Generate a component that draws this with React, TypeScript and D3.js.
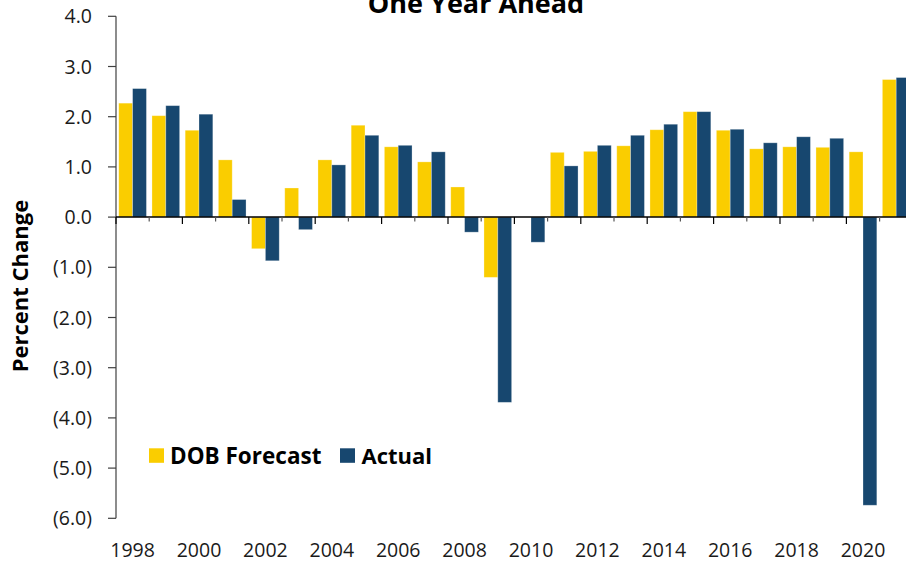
import React from "react";
import * as d3 from "d3";

const years: number[] = [1998, 1999, 2000, 2001, 2002, 2003, 2004, 2005, 2006, 2007, 2008, 2009, 2010, 2011, 2012, 2013, 2014, 2015, 2016, 2017, 2018, 2019, 2020, 2021];
const forecast: number[] = [2.27, 2.02, 1.73, 1.14, -0.63, 0.58, 1.14, 1.83, 1.4, 1.1, 0.6, -1.2, 0, 1.29, 1.31, 1.42, 1.74, 2.1, 1.73, 1.36, 1.4, 1.39, 1.3, 2.74];
const actual: number[] = [2.56, 2.22, 2.05, 0.35, -0.87, -0.25, 1.04, 1.63, 1.43, 1.3, -0.3, -3.69, -0.5, 1.02, 1.43, 1.63, 1.85, 2.1, 1.75, 1.48, 1.6, 1.57, -5.74, 2.78];
const yTicks: number[] = [4, 3, 2, 1, 0, -1, -2, -3, -4, -5, -6];
const seriesNames: string[] = ["DOB Forecast", "Actual"];
const seriesColors: string[] = ["#FACD00", "#17476F"];
const title = "One Year Ahead";
const yTitle = "Percent Change";

const W = 906;
const H = 561;
const FONT = "'Open Sans', 'Noto Sans', sans-serif";

export default function App() {
  const x0 = d3
    .scaleBand<number>()
    .domain(years)
    .range([116, 116 + 33.2 * years.length])
    .paddingInner(0)
    .paddingOuter(0);
  const x1 = d3
    .scaleBand<number>()
    .domain([0, 1])
    .range([0, x0.bandwidth()])
    .paddingOuter(0.2)
    .paddingInner(0);
  const y = d3.scaleLinear().domain([-6, 4]).range([518.3, 16.3]);

  const fmt = (v: number) => (v < 0 ? `(${Math.abs(v).toFixed(1)})` : v.toFixed(1));
  const series = [forecast, actual];

  return (
    <svg
      width={W}
      height={H}
      style={{ position: "absolute", left: 0, top: 0, background: "#fff" }}
      fontFamily={FONT}
    >
      <rect x={0} y={0} width={W} height={H} fill="#fff" />
      {/* bars */}
      {series.map((vals, si) =>
        years.map((yr, i) => {
          const v = vals[i];
          if (v === 0) return null;
          const bx = (x0(yr) as number) + (x1(si) as number);
          const top = y(Math.max(0, v));
          const h = Math.abs(y(v) - y(0));
          return (
            <rect
              key={`${si}-${yr}`}
              x={bx}
              y={top}
              width={x1.bandwidth()}
              height={h}
              fill={seriesColors[si]}
              stroke="#ffffff"
              strokeOpacity={0.35}
              strokeWidth={0.8}
            />
          );
        })
      )}
      {/* y axis */}
      <line x1={116} x2={116} y1={y(4)} y2={y(-6)} stroke="#404040" strokeWidth={1.2} />
      {yTicks.map((t) => (
        <g key={t}>
          <line x1={108} x2={116} y1={y(t)} y2={y(t)} stroke="#404040" strokeWidth={1.2} />
          <text x={92} y={y(t)} dy="0.36em" textAnchor="end" fontSize={19.5} fill="#1a1a1a">
            {fmt(t)}
          </text>
        </g>
      ))}
      {/* x axis at zero */}
      <line x1={116} x2={W} y1={y(0)} y2={y(0)} stroke="#000" strokeWidth={1.5} />
      {years.map((yr, i) => (
        <line
          key={`t${yr}`}
          x1={x0(yr) as number}
          x2={x0(yr) as number}
          y1={y(0)}
          y2={y(0) + (i % 2 === 0 ? 7 : 4.5)}
          stroke={i % 2 === 0 ? "#000" : "#555"}
          strokeWidth={1.2}
        />
      ))}
      {/* x labels */}
      {years
        .filter((_, i) => i % 2 === 0)
        .map((yr) => (
          <text
            key={`l${yr}`}
            x={(x0(yr) as number) + x0.bandwidth() / 2}
            y={556.5}
            textAnchor="middle"
            fontSize={19.5}
            fill="#1a1a1a"
          >
            {yr}
          </text>
        ))}
      {/* title (cut off at the top, as in the source) */}
      <text x={476} y={13.3} textAnchor="middle" fontSize={27} fontWeight="bold" fill="#000">
        {title}
      </text>
      {/* y title */}
      <text
        transform="translate(28,286) rotate(-90)"
        textAnchor="middle"
        fontSize={22}
        fontWeight="bold"
        fill="#000"
      >
        {yTitle}
      </text>
      {/* legend */}
      <rect x={149} y={448.3} width={15} height={14.5} fill={seriesColors[0]} />
      <text x={170} y={463.5} fontSize={22.5} fontWeight="bold" fill="#000">
        {seriesNames[0]}
      </text>
      <rect x={340} y={448.3} width={15} height={14.5} fill={seriesColors[1]} />
      <text x={361.5} y={463.5} fontSize={22} fontWeight="bold" fill="#000">
        {seriesNames[1]}
      </text>
    </svg>
  );
}
